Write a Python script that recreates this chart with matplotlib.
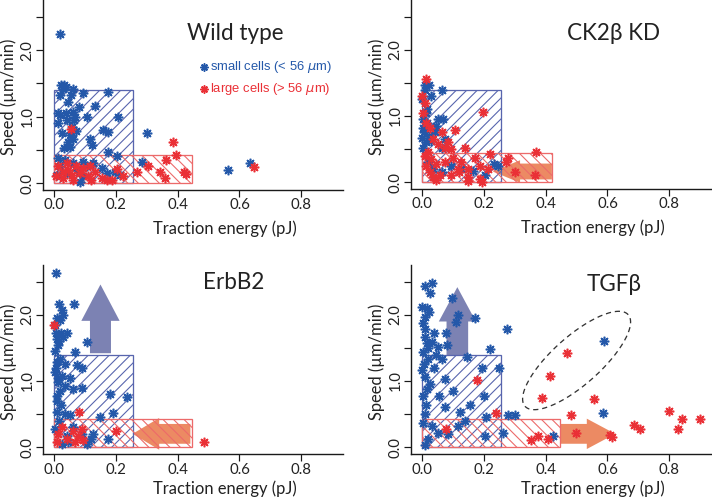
import numpy as np
import matplotlib
matplotlib.use("Agg")
import matplotlib.pyplot as plt
from matplotlib.patches import Rectangle, Polygon
from matplotlib.collections import LineCollection

DPI = 60
PT = 72.0 / DPI  # points per pixel

plt.rcParams['font.family'] = ['Lato', 'DejaVu Sans']
plt.rcParams['mathtext.fontset'] = 'dejavusans'

# ---------------- data ----------------
wt_small_x = [0.019, 0.022, 0.032, 0.028, 0.040, 0.062, 0.019, 0.054, 0.095, 0.173, 0.046, 0.082, 0.132,
              0.019, 0.039, 0.060, 0.068, 0.105, 0.208, 0.014, 0.043, 0.159, 0.175, 0.025, 0.052, 0.062,
              0.046, 0.116, 0.122, 0.032, 0.052, 0.299, 0.175, 0.202, 0.283, 0.014, 0.035, 0.062, 0.095,
              0.127, 0.041, 0.073, 0.105, 0.154, 0.170, 0.197, 0.213, 0.095, 0.084, 0.009, 0.019, 0.562,
              0.635, 0.058, 0.070, 0.065, 0.013]
wt_small_y = [2.25, 1.47, 1.47, 1.42, 1.45, 1.42, 1.32, 1.32, 1.36, 1.37, 1.22, 1.14, 1.16,
              1.02, 1.05, 1.07, 1.00, 0.99, 1.00, 0.90, 0.95, 0.80, 0.77, 0.75, 0.72, 0.67,
              0.62, 0.67, 0.57, 0.52, 0.54, 0.75, 0.47, 0.40, 0.32, 0.37, 0.35, 0.30, 0.32,
              0.30, 0.15, 0.20, 0.25, 0.22, 0.15, 0.17, 0.12, 0.10, 0.01, 0.12, 0.25, 0.19,
              0.30, 0.85, 0.78, 0.95, 1.05]
wt_large_x = [0.054, 0.385, 0.396, 0.363, 0.304, 0.269, 0.342, 0.358, 0.419, 0.428, 0.648, 0.014, 0.028,
              0.041, 0.057, 0.071, 0.084, 0.116, 0.132, 0.110, 0.154, 0.170, 0.186, 0.224, 0.204, 0.006,
              0.030, 0.062, 0.095, 0.120, 0.045]
wt_large_y = [0.81, 0.61, 0.42, 0.35, 0.25, 0.17, 0.17, 0.07, 0.17, 0.14, 0.24, 0.25, 0.17,
              0.30, 0.12, 0.25, 0.15, 0.25, 0.17, 0.10, 0.07, 0.04, 0.05, 0.10, 0.21, 0.10,
              0.07, 0.05, 0.22, 0.05, 0.20]

ck_small_x = [0.009, 0.022, 0.063, 0.000, 0.014, 0.003, 0.017, 0.052, 0.068, 0.006, 0.022, 0.041, 0.030,
              0.003, 0.063, 0.019, 0.036, 0.063, 0.095, 0.127, 0.165, 0.203, 0.246, 0.003, 0.017, 0.000,
              0.030, 0.010, 0.045, 0.075, 0.234, 0.012]
ck_small_y = [1.47, 1.47, 1.40, 1.25, 1.05, 0.95, 0.90, 0.95, 0.96, 0.75, 0.70, 0.75, 0.62,
              0.52, 0.52, 0.30, 0.20, 0.15, 0.25, 0.20, 0.17, 0.10, 0.25, 0.82, 1.10, 0.67,
              1.30, 1.40, 0.85, 0.65, 0.27, 0.60]
ck_large_x = [0.011, 0.000, 0.009, 0.003, 0.197, 0.011, 0.025, 0.063, 0.036, 0.084, 0.052, 0.073, 0.095,
              0.138, 0.278, 0.370, 0.273, 0.300, 0.365, 0.009, 0.030, 0.046, 0.073, 0.100, 0.127, 0.149,
              0.187, 0.214, 0.025, 0.057, 0.095, 0.149, 0.187, 0.036, 0.117, 0.014, 0.170, 0.219, 0.020,
              0.045, 0.150, 0.195, 0.105, 0.120]
ck_large_y = [1.56, 1.30, 1.20, 1.05, 1.06, 0.90, 0.82, 0.75, 0.65, 0.60, 0.57, 0.52, 0.50,
              0.52, 0.37, 0.45, 0.30, 0.15, 0.11, 0.40, 0.35, 0.27, 0.30, 0.37, 0.30, 0.20,
              0.25, 0.20, 0.15, 0.10, 0.10, 0.07, 0.05, 0.07, 0.20, 0.25, 0.37, 0.42, 0.45,
              0.03, 0.01, 0.00, 0.79, 0.15]

eb_small_x = [0.006, 0.017, 0.064, 0.025, 0.030, 0.010, 0.019, 0.003, 0.006, 0.021, 0.041, 0.105, 0.009,
              0.014, 0.003, 0.068, 0.019, 0.009, 0.035, 0.073, 0.089, 0.003, 0.025, 0.014, 0.062, 0.035,
              0.089, 0.009, 0.180, 0.236, 0.021, 0.009, 0.035, 0.051, 0.189, 0.148, 0.003, 0.041, 0.089,
              0.126, 0.175, 0.105, 0.046, 0.025, 0.015, 0.030, 0.005, 0.012, 0.020, 0.008, 0.050, 0.015,
              0.060, 0.120]
eb_small_y = [2.64, 2.17, 2.16, 2.07, 2.00, 1.95, 1.92, 1.84, 1.72, 1.72, 1.72, 1.59, 1.64,
              1.54, 1.46, 1.44, 1.34, 1.29, 1.26, 1.24, 1.19, 1.13, 1.08, 0.98, 0.88, 0.93,
              0.89, 0.78, 0.81, 0.75, 0.63, 0.53, 0.50, 0.48, 0.52, 0.45, 0.27, 0.17, 0.20,
              0.20, 0.12, 0.05, 0.07, 0.05, 1.60, 1.67, 1.20, 1.05, 0.85, 0.70, 1.05, 0.40,
              0.30, 0.12]
eb_large_x = [0.000, 0.081, 0.078, 0.062, 0.014, 0.094, 0.068, 0.041, 0.200, 0.484, 0.010, 0.090, 0.025]
eb_large_y = [1.85, 0.53, 0.17, 0.25, 0.20, 0.10, 0.07, 0.12, 0.25, 0.07, 0.07, 0.28, 0.30]

tg_small_x = [0.008, 0.031, 0.026, 0.000, 0.015, 0.023, 0.008, 0.004, 0.010, 0.096, 0.115, 0.109, 0.171,
              0.274, 0.010, 0.040, 0.015, 0.031, 0.051, 0.078, 0.080, 0.220, 0.004, 0.020, 0.064, 0.144,
              0.000, 0.010, 0.037, 0.074, 0.195, 0.249, 0.015, 0.004, 0.056, 0.201, 0.012, 0.074, 0.123,
              0.155, 0.207, 0.279, 0.300, 0.004, 0.031, 0.053, 0.085, 0.117, 0.203, 0.263, 0.423, 0.020,
              0.008, 0.590, 0.587, 0.020, 0.005, 0.025, 0.010, 0.045, 0.100, 0.140]
tg_small_y = [2.44, 2.49, 2.33, 2.12, 2.10, 2.05, 1.97, 1.87, 1.79, 2.26, 2.00, 1.89, 1.96,
              1.79, 1.67, 1.72, 1.57, 1.59, 1.51, 1.73, 1.54, 1.48, 1.44, 1.34, 1.34, 1.37,
              1.16, 1.06, 1.19, 1.03, 1.20, 1.19, 0.88, 0.78, 0.78, 0.78, 0.63, 0.60, 0.53,
              0.63, 0.45, 0.49, 0.48, 0.37, 0.32, 0.22, 0.20, 0.32, 0.17, 0.22, 0.17, 0.12,
              0.03, 1.60, 0.52, 1.50, 1.25, 0.95, 0.50, 1.40, 0.85, 0.40]
tg_large_x = [0.177, 0.238, 0.076, 0.354, 0.376, 0.408, 0.470, 0.414, 0.387, 0.555, 0.481, 0.499, 0.607,
              0.615, 0.685, 0.704, 0.800, 0.842, 0.828, 0.898]
tg_large_y = [1.01, 0.52, 0.28, 0.10, 0.16, 0.12, 1.42, 1.08, 0.745, 0.72, 0.48, 0.21, 0.19,
              0.15, 0.33, 0.28, 0.55, 0.42, 0.28, 0.42]

titles = ["Wild type", "CK2\u03b2 KD", "ErbB2", "TGF\u03b2"]
legend_labels = ["small cells (< 56 $\\mu$m)", "large cells (> 56 $\\mu$m)"]
x_ticks = [0.0, 0.2, 0.4, 0.6, 0.8]
y_ticks = [0.0, 0.5, 1.0, 1.5, 2.0, 2.5]
xlabel = "Traction energy (pJ)"
ylabel = "Speed (\u00b5m/min)"

# ---------------- style ----------------
BLUE = "#2458a9"
RED = "#ea3036"
BLUE_EDGE = "#5865ae"
RED_EDGE = "#ec6a6a"
SLATE = "#7c82b3"
ORANGE = "#ec8a63"
HATCH_SPACING_PX = 10.5

W, H = 712, 499
fig = plt.figure(figsize=(W / DPI, H / DPI), dpi=DPI)


def px_axes(l, r, t, b):
    return fig.add_axes([l / W, 1 - b / H, (r - l) / W, (b - t) / H])


axes = [px_axes(43, 343, 0, 190), px_axes(411, 711, 0, 189),
        px_axes(43, 343, 265, 454), px_axes(411, 711, 265, 454)]
xlabel_y = [-0.162, -0.162, -0.14, -0.14]

XLIM = (-0.036, 0.935)
YLIM = (-0.105, 2.755)

star = (8, 2, 0)
MS = 9.5 * PT
MEW = 1.6 * PT


def px_scale(ax):
    bbox = ax.get_position()
    sx = bbox.width * W / (XLIM[1] - XLIM[0])
    sy = bbox.height * H / (YLIM[1] - YLIM[0])
    return sx, sy


def hatched_rect(ax, w, h, color, direction):
    rect = Rectangle((0, 0), w, h, facecolor='none', edgecolor=color, linewidth=1.3 * PT, zorder=2)
    ax.add_patch(rect)
    sx, sy = px_scale(ax)
    wp, hp = w * sx, h * sy
    L = wp + hp
    segs = []
    if direction == '/':
        for c in np.arange(-wp, hp, HATCH_SPACING_PX):
            segs.append([(-L / sx, (-L + c) / sy), (L / sx, (L + c) / sy)])
    else:
        for c in np.arange(0, wp + hp, HATCH_SPACING_PX):
            segs.append([(-L / sx, (L + c) / sy), (L / sx, (-L + c) / sy)])
    lc = LineCollection(segs, colors=color, linewidths=1.1 * PT, zorder=2)
    ax.add_collection(lc)
    lc.set_clip_path(rect)


def up_arrow(ax, cx, half_shaft, y0, y_hb, half_head, y_tip, color):
    verts = [(cx - half_shaft, y0), (cx + half_shaft, y0), (cx + half_shaft, y_hb),
             (cx + half_head, y_hb), (cx, y_tip), (cx - half_head, y_hb), (cx - half_shaft, y_hb)]
    ax.add_patch(Polygon(verts, closed=True, facecolor=color, edgecolor='none', zorder=1))


def h_arrow(ax, cy, half_shaft, x_tail, x_hb, half_head, x_tip, color):
    verts = [(x_tail, cy - half_shaft), (x_hb, cy - half_shaft), (x_hb, cy - half_head),
             (x_tip, cy), (x_hb, cy + half_head), (x_hb, cy + half_shaft), (x_tail, cy + half_shaft)]
    ax.add_patch(Polygon(verts, closed=True, facecolor=color, edgecolor='none', zorder=1))


panels = [
    (wt_small_x, wt_small_y, wt_large_x, wt_large_y, (0.255, 1.40), (0.445, 0.42)),
    (ck_small_x, ck_small_y, ck_large_x, ck_large_y, (0.255, 1.40), (0.42, 0.44)),
    (eb_small_x, eb_small_y, eb_large_x, eb_large_y, (0.255, 1.40), (0.445, 0.42)),
    (tg_small_x, tg_small_y, tg_large_x, tg_large_y, (0.255, 1.40), (0.445, 0.42)),
]
title_pos = [(0.587, 2.25), (0.62, 2.25), (0.58, 2.49), (0.62, 2.46)]

for i, (ax, (sx, sy, lx, ly, brect, rrect)) in enumerate(zip(axes, panels)):
    ax.set_xlim(*XLIM)
    ax.set_ylim(*YLIM)
    for s in ['top', 'right']:
        ax.spines[s].set_visible(False)
    for s in ['left', 'bottom']:
        ax.spines[s].set_linewidth(1.4 * PT)
        ax.spines[s].set_color('#1a1a1a')
    ax.set_xticks(x_ticks)
    ax.set_xticklabels([f"{v:.1f}" for v in x_ticks])
    ax.set_yticks(y_ticks)
    ax.set_yticklabels([f"{v:.1f}" if abs(v - round(v)) < 1e-9 else "" for v in y_ticks],
                       rotation=90, va='center')
    ax.tick_params(length=7 * PT, width=1.2 * PT, color='#1a1a1a', labelsize=15 * PT,
                   labelcolor='#222222', pad=1.5 * PT)
    ax.set_xlabel(xlabel, fontsize=16.5 * PT, color='#222222')
    ax.set_ylabel(ylabel, fontsize=16.5 * PT, color='#222222')
    ax.xaxis.set_label_coords(0.605, xlabel_y[i])
    ax.yaxis.set_label_coords(-0.088, 0.49)

    hatched_rect(ax, brect[0], brect[1], BLUE_EDGE, '/')
    hatched_rect(ax, rrect[0], rrect[1], RED_EDGE, '\\')

    ax.plot(sx, sy, linestyle='none', marker=star, ms=MS, mew=MEW, color=BLUE, zorder=3)
    ax.plot(lx, ly, linestyle='none', marker=star, ms=MS, mew=MEW, color=RED, zorder=3)

    ax.text(title_pos[i][0], title_pos[i][1], titles[i], fontsize=22.5 * PT, color='#222222',
            ha='center', va='center')

# legend (Wild type panel)
ax = axes[0]
ax.plot([0.484], [1.75], linestyle='none', marker=star, ms=8 * PT, mew=MEW, color=BLUE)
ax.plot([0.484], [1.42], linestyle='none', marker=star, ms=8 * PT, mew=MEW, color=RED)
ax.text(0.505, 1.75, legend_labels[0], color=BLUE, fontsize=13 * PT, va='center', ha='left',
        family=['Liberation Sans', 'DejaVu Sans'])
ax.text(0.505, 1.42, legend_labels[1], color=RED, fontsize=13 * PT, va='center', ha='left',
        family=['Liberation Sans', 'DejaVu Sans'])

# arrows
h_arrow(axes[1], 0.16, 0.12, 0.42, 0.317, 0.17, 0.228, ORANGE)
up_arrow(axes[2], 0.150, 0.034, 1.42, 1.91, 0.062, 2.46, SLATE)
h_arrow(axes[2], 0.20, 0.15, 0.441, 0.34, 0.24, 0.254, ORANGE)
up_arrow(axes[3], 0.114, 0.035, 1.39, 1.90, 0.060, 2.42, SLATE)
h_arrow(axes[3], 0.20, 0.15, 0.447, 0.533, 0.23, 0.625, ORANGE)

# dashed ellipse (TGFb) drawn in pixel space around a data centre
ax = axes[3]
ell_cx, ell_cy = 0.50, 1.31
ell_a, ell_b, ell_ang = 69.0, 24.0, np.deg2rad(41.6)
sx_px, sy_px = px_scale(ax)
t = np.linspace(0, 2 * np.pi, 200)
ex = ell_cx + (ell_a * np.cos(ell_ang) * np.cos(t) - ell_b * np.sin(ell_ang) * np.sin(t)) / sx_px
ey = ell_cy + (ell_a * np.sin(ell_ang) * np.cos(t) + ell_b * np.cos(ell_ang) * np.sin(t)) / sy_px
ax.plot(ex, ey, color='#333333', lw=1.3 * PT, dashes=(4, 3), zorder=2)

fig.savefig("out.png", dpi=DPI)
